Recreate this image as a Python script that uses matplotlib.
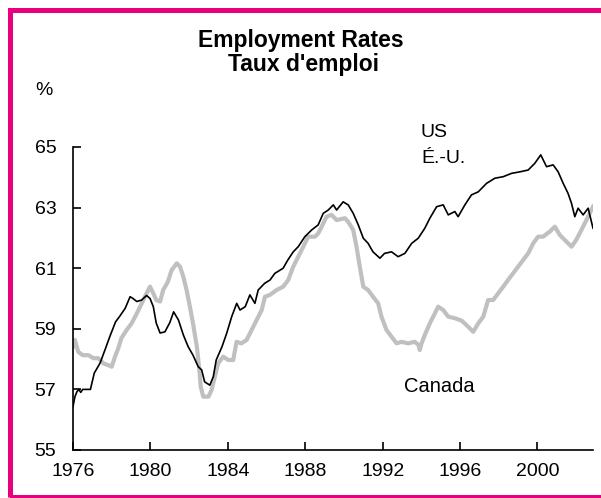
import matplotlib
matplotlib.use("Agg")
import matplotlib.pyplot as plt
from matplotlib.patches import Rectangle

plt.rcParams['font.family'] = ['Liberation Sans', 'DejaVu Sans']

# ---- data ----
us_years = [1976.0, 1976.1, 1976.2, 1976.3, 1976.4, 1976.5, 1976.9, 1977.1, 1977.4, 1977.65,
            1977.9, 1978.2, 1978.4, 1978.7, 1978.95, 1979.1, 1979.3, 1979.55, 1979.8, 1979.98,
            1980.15, 1980.3, 1980.5, 1980.75, 1981.0, 1981.2, 1981.45, 1981.7, 1981.95, 1982.2,
            1982.47, 1982.65, 1982.8, 1983.07, 1983.25, 1983.4, 1983.7, 1983.94, 1984.2, 1984.46,
            1984.63, 1984.9, 1985.14, 1985.4, 1985.57, 1985.9, 1986.18, 1986.43, 1986.86, 1987.1,
            1987.38, 1987.64, 1987.98, 1988.33, 1988.67, 1988.93, 1989.19, 1989.45, 1989.62, 1989.96,
            1990.22, 1990.48, 1990.74, 1991.0, 1991.25, 1991.5, 1991.86, 1992.1, 1992.46, 1992.8,
            1993.15, 1993.5, 1993.84, 1994.18, 1994.44, 1994.79, 1995.13, 1995.39, 1995.73, 1995.9,
            1996.08, 1996.25, 1996.59, 1996.94, 1997.37, 1997.8, 1998.23, 1998.66, 1999.09, 1999.52,
            1999.86, 2000.17, 2000.47, 2000.81, 2001.07, 2001.33, 2001.58, 2001.76, 2001.93, 2002.1,
            2002.36, 2002.62, 2002.87]
us_rate = [56.43, 56.76, 56.92, 57.0, 56.9, 57.0, 57.0, 57.54, 57.87, 58.3,
           58.74, 59.23, 59.4, 59.68, 60.06, 60.0, 59.9, 59.95, 60.1, 60.0,
           59.73, 59.19, 58.86, 58.9, 59.2, 59.56, 59.29, 58.8, 58.41, 58.13,
           57.75, 57.64, 57.25, 57.14, 57.42, 57.97, 58.41, 58.85, 59.4, 59.84,
           59.62, 59.73, 60.12, 59.84, 60.28, 60.5, 60.61, 60.83, 61.0, 61.27,
           61.54, 61.71, 62.04, 62.26, 62.43, 62.81, 62.92, 63.09, 62.92, 63.19,
           63.09, 62.81, 62.43, 61.99, 61.82, 61.54, 61.33, 61.49, 61.54, 61.38,
           61.49, 61.82, 61.99, 62.32, 62.65, 63.03, 63.09, 62.76, 62.87, 62.7,
           62.9, 63.09, 63.42, 63.52, 63.8, 63.97, 64.02, 64.13, 64.18, 64.24,
           64.46, 64.74, 64.35, 64.41, 64.18, 63.8, 63.47, 63.14, 62.7, 62.98,
           62.76, 62.98, 62.32]

ca_years = [1976.0, 1976.1, 1976.27, 1976.5, 1976.8, 1977.05, 1977.3, 1977.57, 1977.82, 1978.0,
            1978.17, 1978.34, 1978.5, 1978.77, 1979.03, 1979.3, 1979.55, 1979.8, 1979.98, 1980.15,
            1980.3, 1980.5, 1980.66, 1980.9, 1981.1, 1981.36, 1981.53, 1981.7, 1981.87, 1982.04,
            1982.2, 1982.4, 1982.53, 1982.6, 1982.73, 1983.0, 1983.16, 1983.33, 1983.5, 1983.76,
            1984.02, 1984.28, 1984.45, 1984.7, 1984.97, 1985.23, 1985.49, 1985.75, 1985.92, 1986.18,
            1986.52, 1986.86, 1987.12, 1987.38, 1987.64, 1987.9, 1988.15, 1988.5, 1988.67, 1988.85,
            1989.1, 1989.36, 1989.62, 1990.05, 1990.22, 1990.48, 1990.65, 1990.82, 1991.0, 1991.25,
            1991.5, 1991.77, 1991.94, 1992.2, 1992.46, 1992.72, 1992.97, 1993.32, 1993.66, 1993.85,
            1993.92, 1994.0, 1994.18, 1994.44, 1994.7, 1994.87, 1995.13, 1995.39, 1995.73, 1996.08,
            1996.42, 1996.68, 1996.94, 1997.2, 1997.45, 1997.71, 1997.97, 1998.23, 1998.48, 1998.74,
            1999.0, 1999.26, 1999.52, 1999.78, 2000.03, 2000.29, 2000.64, 2000.9, 2001.15, 2001.41,
            2001.76, 2002.0, 2002.27, 2002.53, 2002.87]
ca_rate = [58.41, 58.63, 58.24, 58.13, 58.13, 58.03, 58.03, 57.86, 57.8, 57.75,
           58.08, 58.36, 58.69, 58.96, 59.18, 59.51, 59.84, 60.17, 60.39, 60.17,
           59.95, 59.9, 60.28, 60.55, 60.94, 61.16, 61.05, 60.72, 60.28, 59.73,
           59.18, 58.41, 57.64, 57.09, 56.76, 56.76, 56.98, 57.42, 57.86, 58.08,
           57.97, 57.97, 58.57, 58.52, 58.63, 58.96, 59.29, 59.62, 60.06, 60.12,
           60.28, 60.39, 60.61, 61.05, 61.38, 61.71, 62.04, 62.04, 62.15, 62.37,
           62.7, 62.76, 62.59, 62.65, 62.53, 62.26, 61.71, 61.05, 60.39, 60.28,
           60.06, 59.84, 59.4, 58.96, 58.74, 58.52, 58.57, 58.52, 58.57, 58.47,
           58.3, 58.5, 58.8, 59.18, 59.51, 59.73, 59.62, 59.4, 59.35, 59.27,
           59.07, 58.9, 59.18, 59.4, 59.95, 59.95, 60.17, 60.39, 60.61, 60.83,
           61.05, 61.27, 61.49, 61.82, 62.04, 62.04, 62.21, 62.37, 62.1, 61.93,
           61.71, 61.93, 62.26, 62.59, 63.03]

x_ticks = [1976, 1980, 1984, 1988, 1992, 1996, 2000]
y_ticks = [55, 57, 59, 61, 63, 65]

title_en = "Employment Rates"
title_fr = "Taux d'emploi"
label_us = "US"
label_us_fr = "É.-U."
label_ca = "Canada"

W, H = 601, 498
fig = plt.figure(figsize=(W / 100, H / 100), dpi=100)


def fx(px):
    return px / W


def fy(py):
    return 1 - py / H


ax = fig.add_axes([fx(73), fy(450), fx(593) - fx(73), fy(147) - fy(450)])
ax.plot(ca_years, ca_rate, color='#c0c0c0', linewidth=3.0, zorder=2)
ax.plot(us_years, us_rate, color='black', linewidth=1.2, zorder=3)

ax.set_xlim(1976, 2002.87)
ax.set_ylim(55, 65)
ax.set_xticks(x_ticks)
ax.set_yticks(y_ticks)
for s in ['top', 'right']:
    ax.spines[s].set_visible(False)
for s in ['left', 'bottom']:
    ax.spines[s].set_linewidth(1.2)
ax.tick_params(axis='both', direction='in', length=6, width=1.2, labelsize=14, colors='black')
ax.tick_params(axis='y', pad=12)
ax.tick_params(axis='x', pad=9)
ax.patch.set_alpha(0)

# titles and labels
fig.text(fx(301), fy(46.5), title_en, ha='center', va='baseline', fontsize=16.5, fontweight='bold')
fig.text(fx(303), fy(71), title_fr, ha='center', va='baseline', fontsize=16.5, fontweight='bold')
fig.text(fx(44), fy(95), "%", ha='center', va='baseline', fontsize=14)
fig.text(fx(421), fy(136.7), label_us, ha='left', va='baseline', fontsize=14)
fig.text(fx(421), fy(163.3), label_us_fr, ha='left', va='baseline', fontsize=14)
fig.text(fx(404), fy(391.7), label_ca, ha='left', va='baseline', fontsize=14.5)

# magenta frame
fig.patches.append(Rectangle((fx(10.5), fy(496.5)), fx(620) - fx(10.5), fy(9.8) - fy(496.5),
                             transform=fig.transFigure, fill=False, edgecolor='#e6007e',
                             linewidth=3.6, zorder=0))

fig.savefig("out.png", dpi=100)
